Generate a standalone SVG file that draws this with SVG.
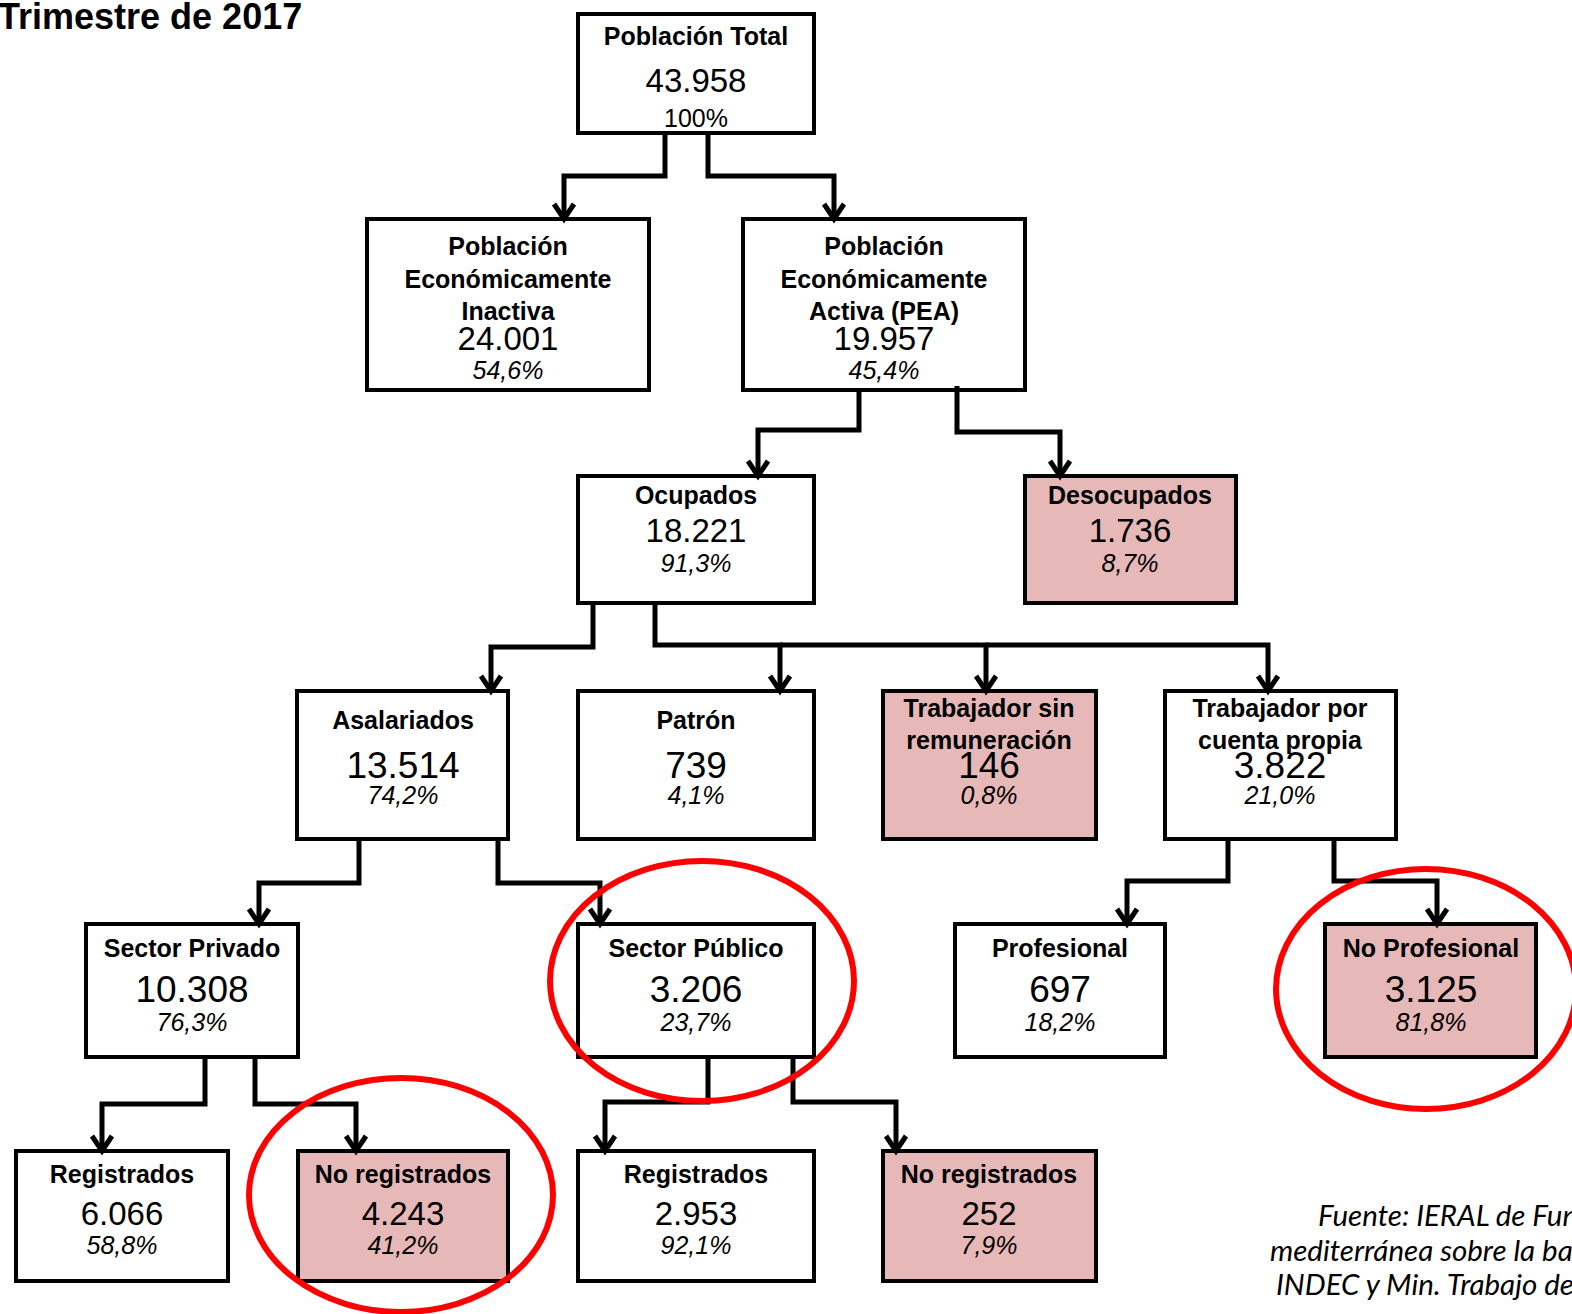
<svg xmlns="http://www.w3.org/2000/svg" width="1572" height="1314" viewBox="0 0 1572 1314">
<defs>
<style>
.box{fill:#fff;stroke:#000;stroke-width:4}
.pink{fill:#E6B8B7}
.lbl{font-family:"Liberation Sans",Arial,sans-serif;font-weight:bold;font-size:25px;text-anchor:middle;fill:#000}
.num{font-family:"Liberation Sans",Arial,sans-serif;font-size:33px;text-anchor:middle;fill:#000}
.numl{font-family:"Liberation Sans",Arial,sans-serif;font-size:37px;text-anchor:middle;fill:#000}
.pct{font-family:"Liberation Sans",Arial,sans-serif;font-style:italic;font-size:25px;text-anchor:middle;fill:#000}
.pctn{font-family:"Liberation Sans",Arial,sans-serif;font-size:25px;text-anchor:middle;fill:#000}
.con{fill:none;stroke:#000;stroke-width:5;marker-end:url(#arr)}
.ring{fill:none;stroke:#FF0000;stroke-width:6}
.src{font-family:Lato,"Open Sans",sans-serif;font-style:italic;font-size:29.5px;fill:#000}
</style>
<marker id="arr" markerUnits="userSpaceOnUse" markerWidth="30" markerHeight="30" viewBox="-20 -15 25 30" refX="0" refY="0" orient="auto">
<path d="M-15,-10 L0,0 L-15,10" fill="none" stroke="#000" stroke-width="5"/>
</marker>
</defs>
<rect width="1572" height="1314" fill="#fff"/>
<text x="-2" y="29" font-family="Liberation Sans,Arial,sans-serif" font-weight="bold" font-size="36">Trimestre de 2017</text>

<g id="n-total"><rect class="box" x="578" y="14" width="236" height="119"/>
<text class="lbl" x="696" y="45">Población Total</text><text class="num" x="696" y="92">43.958</text><text class="pctn" x="696" y="127">100%</text></g>

<g id="n-pei"><rect class="box" x="367" y="219" width="282" height="171"/>
<text class="lbl" x="508" y="255">Población</text><text class="lbl" x="508" y="288">Económicamente</text><text class="lbl" x="508" y="320">Inactiva</text><text class="num" x="508" y="350">24.001</text><text class="pct" x="508" y="379">54,6%</text></g>

<g id="n-pea"><rect class="box" x="743" y="219" width="282" height="171"/>
<text class="lbl" x="884" y="255">Población</text><text class="lbl" x="884" y="288">Económicamente</text><text class="lbl" x="884" y="320">Activa (PEA)</text><text class="num" x="884" y="350">19.957</text><text class="pct" x="884" y="379">45,4%</text></g>

<g id="n-ocupados"><rect class="box" x="578" y="476" width="236" height="127"/>
<text class="lbl" x="696" y="504">Ocupados</text><text class="num" x="696" y="542">18.221</text><text class="pct" x="696" y="572">91,3%</text></g>

<g id="n-desocupados"><rect class="box pink" x="1025" y="476" width="211" height="127"/>
<text class="lbl" x="1130" y="504">Desocupados</text><text class="num" x="1130" y="542">1.736</text><text class="pct" x="1130" y="572">8,7%</text></g>

<g id="n-asalariados"><rect class="box" x="297" y="691" width="211" height="148"/>
<text class="lbl" x="403" y="729">Asalariados</text><text class="numl" x="403" y="778">13.514</text><text class="pct" x="403" y="804">74,2%</text></g>

<g id="n-patron"><rect class="box" x="578" y="691" width="236" height="148"/>
<text class="lbl" x="696" y="729">Patrón</text><text class="numl" x="696" y="778">739</text><text class="pct" x="696" y="804">4,1%</text></g>

<g id="n-sinrem"><rect class="box pink" x="883" y="691" width="213" height="148"/>
<text class="lbl" x="989" y="717">Trabajador sin</text><text class="lbl" x="989" y="749">remuneración</text><text class="numl" x="989" y="778">146</text><text class="pct" x="989" y="804">0,8%</text></g>

<g id="n-cuentapropia"><rect class="box" x="1165" y="691" width="231" height="148"/>
<text class="lbl" x="1280" y="717">Trabajador por</text><text class="lbl" x="1280" y="749">cuenta propia</text><text class="numl" x="1280" y="778">3.822</text><text class="pct" x="1280" y="804">21,0%</text></g>

<g id="n-privado"><rect class="box" x="86" y="924" width="212" height="133"/>
<text class="lbl" x="192" y="957">Sector Privado</text><text class="numl" x="192" y="1002">10.308</text><text class="pct" x="192" y="1031">76,3%</text></g>

<g id="n-publico"><rect class="box" x="578" y="924" width="236" height="133"/>
<text class="lbl" x="696" y="957">Sector Público</text><text class="numl" x="696" y="1002">3.206</text><text class="pct" x="696" y="1031">23,7%</text></g>

<g id="n-profesional"><rect class="box" x="955" y="924" width="210" height="133"/>
<text class="lbl" x="1060" y="957">Profesional</text><text class="numl" x="1060" y="1002">697</text><text class="pct" x="1060" y="1031">18,2%</text></g>

<g id="n-noprofesional"><rect class="box pink" x="1325" y="924" width="211" height="133"/>
<text class="lbl" x="1431" y="957">No Profesional</text><text class="numl" x="1431" y="1002">3.125</text><text class="pct" x="1431" y="1031">81,8%</text></g>

<g id="n-reg1"><rect class="box" x="16" y="1151" width="212" height="130"/>
<text class="lbl" x="122" y="1183">Registrados</text><text class="num" x="122" y="1225">6.066</text><text class="pct" x="122" y="1254">58,8%</text></g>

<g id="n-noreg1"><rect class="box pink" x="298" y="1151" width="210" height="130"/>
<text class="lbl" x="403" y="1183">No registrados</text><text class="num" x="403" y="1225">4.243</text><text class="pct" x="403" y="1254">41,2%</text></g>

<g id="n-reg2"><rect class="box" x="578" y="1151" width="236" height="130"/>
<text class="lbl" x="696" y="1183">Registrados</text><text class="num" x="696" y="1225">2.953</text><text class="pct" x="696" y="1254">92,1%</text></g>

<g id="n-noreg2"><rect class="box pink" x="883" y="1151" width="213" height="130"/>
<text class="lbl" x="989" y="1183">No registrados</text><text class="num" x="989" y="1225">252</text><text class="pct" x="989" y="1254">7,9%</text></g>

<g id="connectors">
<polyline class="con" points="665,133 665,176 564,176 564,219"/>
<polyline class="con" points="708,133 708,176 834,176 834,219"/>
<polyline class="con" points="859,388 859,430 758,430 758,476"/>
<polyline class="con" points="957,386 957,432 1060,432 1060,476"/>
<polyline class="con" points="593,603 593,647 491,647 491,691"/>
<polyline class="con" points="655,601 655,645 780,645 780,691"/>
<polyline class="con" points="780,645 986,645 986,691"/>
<polyline class="con" points="986,645 1268,645 1268,691"/>
<polyline class="con" points="359,839 359,883 259,883 259,924"/>
<polyline class="con" points="498,837 498,883 600,883 600,924"/>
<polyline class="con" points="1228,839 1228,881 1127,881 1127,924"/>
<polyline class="con" points="1334,839 1334,881 1437,881 1437,924"/>
<polyline class="con" points="205,1057 205,1104 102,1104 102,1151"/>
<polyline class="con" points="255,1057 255,1104 356,1104 356,1151"/>
<polyline class="con" points="708,1057 708,1102 605,1102 605,1151"/>
<polyline class="con" points="793,1057 793,1102 896,1102 896,1151"/>
</g>

<g id="highlights">
<ellipse class="ring" cx="702" cy="981" rx="152" ry="120"/>
<ellipse class="ring" cx="1426" cy="989" rx="150" ry="120"/>
<ellipse class="ring" cx="401" cy="1195" rx="152" ry="117"/>
</g>

<g id="source">
<text class="src" x="1318" y="1226">Fuente: IERAL de Fundación</text>
<text class="src" x="1270" y="1261">mediterránea sobre la base de</text>
<text class="src" x="1276" y="1295">INDEC y Min. Trabajo de la Nación</text>
</g>
</svg>
